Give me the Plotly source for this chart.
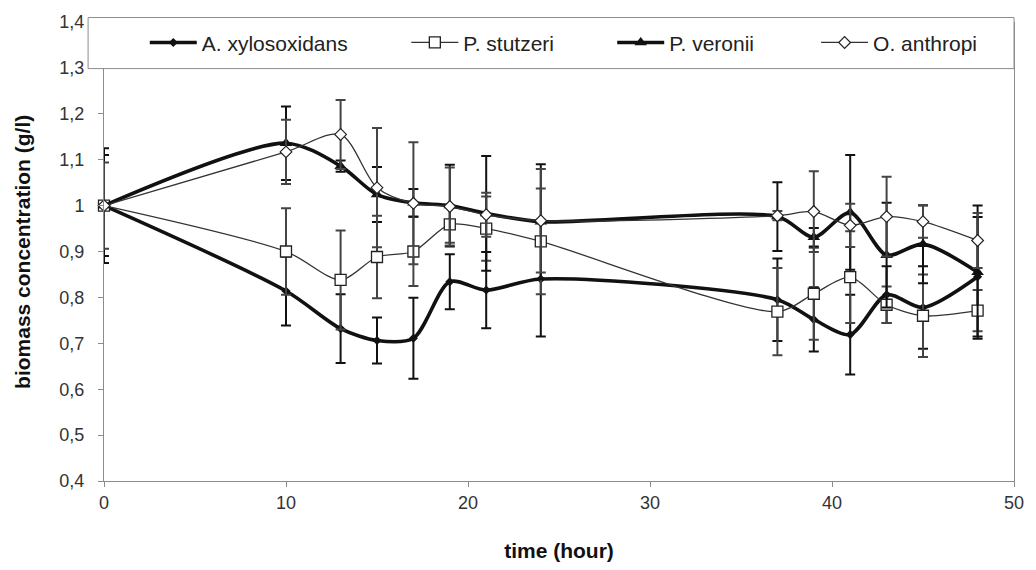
import plotly.graph_objects as go

# ---------------- data ----------------
time_h = [0, 10, 13, 15, 17, 19, 21, 24, 37, 39, 41, 43, 45, 48]

a_xylo = [1.0, 0.814, 0.732, 0.706, 0.711, 0.834, 0.816, 0.840, 0.795, 0.752, 0.719, 0.806, 0.778, 0.845]
a_xylo_err = [0.125, 0.075, 0.075, 0.05, 0.088, 0.06, 0.083, 0.125, 0.09, 0.07, 0.087, 0.062, 0.09, 0.13]

p_stutzeri = [1.0, 0.900, 0.838, 0.888, 0.900, 0.959, 0.950, 0.922, 0.769, 0.808, 0.844, 0.784, 0.760, 0.771]
p_stutzeri_err = [0.0, 0.094, 0.108, 0.09, 0.075, 0.04, 0.07, 0.115, 0.095, 0.10, 0.10, 0.04, 0.09, 0.045]

p_veronii = [1.0, 1.136, 1.086, 1.024, 1.006, 1.000, 0.983, 0.965, 0.976, 0.931, 0.985, 0.892, 0.916, 0.855]
p_veronii_err = [0.11, 0.08, 0.012, 0.06, 0.03, 0.089, 0.125, 0.125, 0.075, 0.02, 0.125, 0.114, 0.085, 0.145]

o_anthropi = [1.0, 1.117, 1.155, 1.039, 1.005, 0.998, 0.980, 0.967, 0.978, 0.987, 0.957, 0.976, 0.965, 0.924]
o_anthropi_err = [0.094, 0.07, 0.075, 0.13, 0.133, 0.085, 0.048, 0.113, 0.01, 0.088, 0.047, 0.087, 0.035, 0.06]

names = ["A. xylosoxidans", "P. stutzeri", "P. veronii", "O. anthropi"]

x_ticks = [0, 10, 20, 30, 40, 50]

# ---------------- figure ----------------
FONT = "Liberation Sans, Arial, sans-serif"
W, H = 1036, 570
L, R, T, B = 104, 17, 22, 85
PW = W - L - R
PH = H - T - B


def px_x(p):
    return (p - L) / PW


def px_y(p):
    return (H - B - p) / PH


fig = go.Figure()

specs = [
    (a_xylo, a_xylo_err, names[0], dict(width=3.6, color="#111111"),
     dict(symbol="diamond", size=7, color="#111111", line=dict(width=0)), "#111111", "legend"),
    (p_stutzeri, p_stutzeri_err, names[1], dict(width=1.3, color="#333333"),
     dict(symbol="square", size=11, color="white", line=dict(width=1.3, color="#222222")), "#444444", "legend2"),
    (p_veronii, p_veronii_err, names[2], dict(width=3.6, color="#111111"),
     dict(symbol="triangle-up", size=11, color="#111111", line=dict(width=0)), "#111111", "legend3"),
    (o_anthropi, o_anthropi_err, names[3], dict(width=1.3, color="#333333"),
     dict(symbol="diamond", size=9, color="white", line=dict(width=1.2, color="#222222")), "#444444", "legend4"),
]

for vals, errs, nm, ln, mk, ecol, lg in specs:
    fig.add_trace(go.Scatter(
        x=time_h, y=vals, name=nm, mode="lines+markers",
        line=dict(shape="spline", smoothing=0.8, **ln),
        marker=mk,
        error_y=dict(type="data", array=errs, visible=True, color=ecol, thickness=2, width=5),
        cliponaxis=False,
        legend=lg,
        showlegend=True,
    ))

# legend box
fig.add_shape(type="rect", xref="paper", yref="paper",
              x0=px_x(88), x1=px_x(1019), y0=px_y(69), y1=px_y(17.5),
              line=dict(color="#8c8c8c", width=1), fillcolor="white", layer="above")

legend_common = dict(orientation="h", yanchor="middle", xanchor="left",
                     bgcolor="rgba(0,0,0,0)", borderwidth=0,
                     font=dict(family=FONT, size=21, color="#222222"),
                     itemwidth=47, y=px_y(43))

fig.add_annotation(text="<b>biomass concentration (g/l)</b>", textangle=-90,
                   xref="paper", yref="paper", x=px_x(22), y=0.5,
                   xanchor="center", yanchor="middle", showarrow=False,
                   font=dict(family=FONT, size=21, color="#111111"))

fig.update_layout(
    width=W, height=H,
    margin=dict(l=L, r=R, t=T, b=B),
    paper_bgcolor="white", plot_bgcolor="white",
    separators=", ",
    showlegend=True,
    font=dict(family=FONT, color="#333333"),
    legend=dict(x=px_x(145), **legend_common),
    legend2=dict(x=px_x(408), **legend_common),
    legend3=dict(x=px_x(615), **legend_common),
    legend4=dict(x=px_x(820), **legend_common),
    xaxis=dict(range=[0, 50], tickvals=x_ticks, ticks="outside", ticklen=5,
               tickcolor="#8c8c8c", showline=True, linecolor="#8c8c8c", linewidth=1,
               showgrid=False, zeroline=False,
               tickfont=dict(family=FONT, size=18, color="#333333"),
               title=dict(text="<b>time (hour)</b>", font=dict(family=FONT, size=21, color="#111111"),
                          standoff=31)),
    yaxis=dict(range=[0.4, 1.4], dtick=0.1, tick0=0.4, ticks="outside", ticklen=5,
               tickcolor="#8c8c8c", showline=True, linecolor="#8c8c8c", linewidth=1,
               mirror=True, ticksuffix="\u00a0\u00a0",
               showgrid=False, zeroline=False,
               tickfont=dict(family=FONT, size=18, color="#333333")),
)

fig.write_html("out.html")
